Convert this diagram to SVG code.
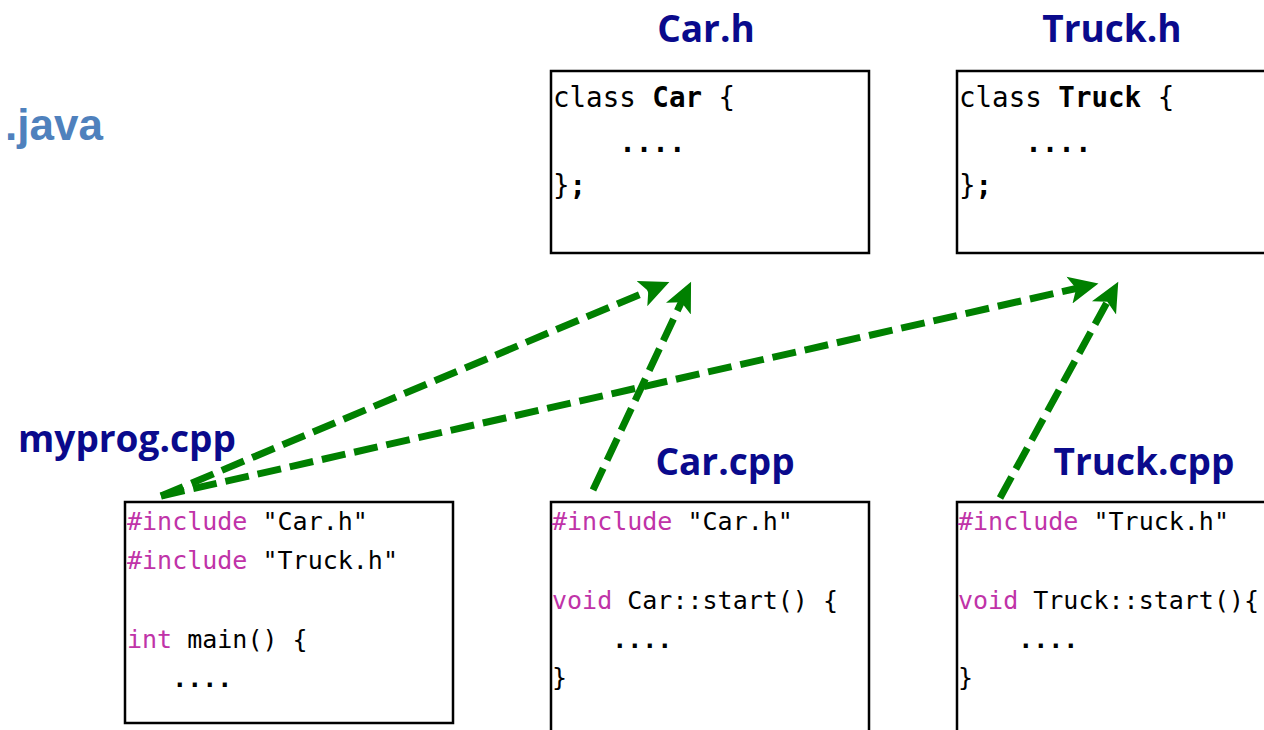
<svg xmlns="http://www.w3.org/2000/svg" width="1264" height="730" viewBox="0 0 1264 730">
<style>
.title{font-family:"Open Sans","Liberation Sans",sans-serif;font-weight:bold;font-size:37px;fill:#0a0a8c}
.box{fill:#fff;stroke:#000;stroke-width:2.5}
.code{font-family:"DejaVu Sans Mono","Liberation Mono",monospace;font-size:25px;fill:#000;white-space:pre}
.hcode{font-family:"DejaVu Sans Mono","Liberation Mono",monospace;font-size:27.5px;fill:#000;white-space:pre}
.kw{fill:#c033a8}
.b{font-weight:bold}
.arrow{fill:none;stroke:#008000;stroke-width:7;stroke-dasharray:24 9;marker-end:url(#ah)}
</style>
<defs>
<marker id="ah" markerUnits="userSpaceOnUse" markerWidth="32" markerHeight="32" viewBox="0 -13 28 26" refX="8" refY="0" orient="auto">
<path d="M0,-12 L26,0 L0,12 L6,0 Z" fill="#008000"/>
</marker>
</defs>
<rect width="1264" height="730" fill="#fff"/>
<text x="5" y="140" font-family="Liberation Sans, Arial, sans-serif" font-weight="bold" font-size="44" fill="#4f81bd">.java</text>
<g id="carh">
<text class="title" x="706" y="42" text-anchor="middle">Car.h</text>
<rect class="box" x="551" y="71" width="318" height="182"/>
<text class="hcode" x="553" y="107">class <tspan class="b">Car</tspan> {</text>
<text class="hcode b" x="553" y="152">    ....</text>
<text class="hcode" x="553" y="195">}<tspan class="b">;</tspan></text>
</g>
<g id="truckh">
<text class="title" x="1112" y="42" text-anchor="middle">Truck.h</text>
<rect class="box" x="957" y="71" width="320" height="182"/>
<text class="hcode" x="959" y="107">class <tspan class="b">Truck</tspan> {</text>
<text class="hcode b" x="959" y="152">    ....</text>
<text class="hcode" x="959" y="195">}<tspan class="b">;</tspan></text>
</g>
<g id="myprog">
<text class="title" x="18" y="452">myprog.cpp</text>
<rect class="box" x="125" y="502" width="328" height="221"/>
<text class="code" x="127" y="530"><tspan class="kw">#include</tspan> "Car.h"</text>
<text class="code" x="127" y="569"><tspan class="kw">#include</tspan> "Truck.h"</text>
<text class="code" x="127" y="648"><tspan class="kw">int</tspan> main() {</text>
<text class="code b" x="127" y="687">   ....</text>
</g>
<g id="carcpp">
<text class="title" x="725" y="475" text-anchor="middle">Car.cpp</text>
<rect class="box" x="551" y="502" width="318" height="240"/>
<text class="code" x="552" y="530"><tspan class="kw">#include</tspan> "Car.h"</text>
<text class="code" x="552" y="609"><tspan class="kw">void</tspan> Car::start() {</text>
<text class="code b" x="552" y="648">    ....</text>
<text class="code" x="552" y="686">}</text>
</g>
<g id="truckcpp">
<text class="title" x="1144" y="475" text-anchor="middle">Truck.cpp</text>
<rect class="box" x="957" y="502" width="320" height="240"/>
<text class="code" x="958" y="530"><tspan class="kw">#include</tspan> "Truck.h"</text>
<text class="code" x="958" y="609"><tspan class="kw">void</tspan> Truck::start(){</text>
<text class="code b" x="958" y="648">    ....</text>
<text class="code" x="958" y="686">}</text>
</g>
<g id="connectors">
<line class="arrow" x1="161" y1="496" x2="650.4" y2="290"/>
<line class="arrow" x1="161" y1="496" x2="1078.4" y2="288"/>
<line class="arrow" x1="593" y1="490" x2="682.3" y2="300.3"/>
<line class="arrow" x1="1000" y1="498" x2="1108.4" y2="299.8"/>
</g>
</svg>
